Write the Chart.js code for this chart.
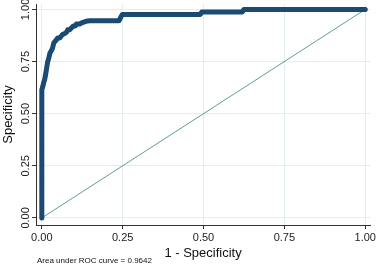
<!DOCTYPE html>
<html>
<head>
<meta charset="utf-8">
<script src="https://cdn.jsdelivr.net/npm/chart.js@4/dist/chart.umd.min.js"></script>
<style>
html,body{margin:0;padding:0;background:#fff;}
#wrap{width:378px;height:266px;position:relative;}
</style>
</head>
<body>
<div id="wrap"><canvas id="c" width="378" height="266"></canvas></div>
<script>
// 1 - Specificity (x) and Specificity axis value (y) of the ROC curve
const rocX = [0, 0, 0, 0, 0, 0, 0, 0.003, 0.006, 0.009, 0.012, 0.015, 0.018, 0.022, 0.025, 0.031, 0.034, 0.037, 0.043, 0.049, 0.055, 0.058, 0.064, 0.071, 0.077, 0.080, 0.086, 0.092, 0.098, 0.104, 0.107, 0.117, 0.123, 0.132, 0.141, 0.150, 0.239, 0.245, 0.249, 0.490, 0.495, 0.620, 0.625, 1.0];
const rocY = [0, 0.08, 0.17, 0.26, 0.35, 0.45, 0.614, 0.63, 0.65, 0.665, 0.69, 0.72, 0.748, 0.77, 0.79, 0.806, 0.82, 0.839, 0.85, 0.863, 0.863, 0.868, 0.88, 0.885, 0.892, 0.902, 0.902, 0.912, 0.921, 0.921, 0.930, 0.930, 0.935, 0.940, 0.945, 0.946, 0.946, 0.965, 0.976, 0.976, 0.988, 0.988, 1.0, 1.0];
const refX = [0, 1];
const refY = [0, 1];
const tickVals = [0, 0.25, 0.5, 0.75, 1];
const aucText = 'Area under ROC curve = 0.9642';
const xTitle = '1 - Specificity';
const yTitle = 'Specificity';

const rocPts = rocX.map((x, i) => ({x: x, y: rocY[i]}));
const refPts = refX.map((x, i) => ({x: x, y: refY[i]}));

const FONT = "'Liberation Sans Narrow', 'Liberation Sans', Arial, sans-serif";

const notePlugin = {
  id: 'note',
  afterDraw(chart) {
    const ctx = chart.ctx;
    ctx.save();
    ctx.font = "8px 'Liberation Sans', Arial, sans-serif";
    ctx.fillStyle = '#111';
    ctx.textBaseline = 'middle';
    ctx.textAlign = 'left';
    ctx.fillText(aucText, 37, 261);
    ctx.restore();
  }
};

const fmt = v => Number(v).toFixed(2);

new Chart(document.getElementById('c'), {
  type: 'scatter',
  data: {
    datasets: [
      {
        data: refPts,
        showLine: true,
        borderColor: '#5e9c98',
        borderWidth: 1,
        pointRadius: 0,
        order: 1
      },
      {
        data: rocPts,
        showLine: true,
        borderColor: '#1b4a73',
        backgroundColor: '#1b4a73',
        borderWidth: 5,
        pointRadius: 2,
        pointBorderWidth: 0,
        borderJoinStyle: 'round',
        borderCapStyle: 'round',
        order: 0
      }
    ]
  },
  options: {
    responsive: false,
    animation: false,
    events: [],
    layout: {padding: {left: 1, right: 4, top: 4, bottom: 5}},
    plugins: {legend: {display: false}, tooltip: {enabled: false}},
    scales: {
      x: {
        type: 'linear',
        min: -0.018,
        max: 1.015,
        afterBuildTicks: s => { s.ticks = tickVals.map(v => ({value: v})); },
        afterFit: s => { s.height = 36; },
        grid: {color: '#e3eeee', lineWidth: 1, tickColor: '#333', tickLength: 4, drawTicks: true},
        border: {display: true, color: '#333', width: 1},
        ticks: {font: {family: FONT, size: 11}, color: '#222', padding: 2, maxRotation: 0, callback: fmt},
        title: {display: true, text: xTitle, font: {family: FONT, size: 13}, color: '#111', padding: 0}
      },
      y: {
        type: 'linear',
        min: -0.034,
        max: 1.026,
        afterBuildTicks: s => { s.ticks = tickVals.map(v => ({value: v})); },
        afterFit: s => { s.width = 35; },
        grid: {color: '#e3eeee', lineWidth: 1, tickColor: '#333', tickLength: 4, drawTicks: true},
        border: {display: true, color: '#333', width: 1},
        ticks: {font: {family: FONT, size: 11}, color: '#222', padding: -5, minRotation: 90, maxRotation: 90, crossAlign: 'center', callback: fmt},
        title: {display: true, text: yTitle, font: {family: FONT, size: 13}, color: '#111', padding: 0}
      }
    }
  },
  plugins: [notePlugin]
});
</script>
</body>
</html>
